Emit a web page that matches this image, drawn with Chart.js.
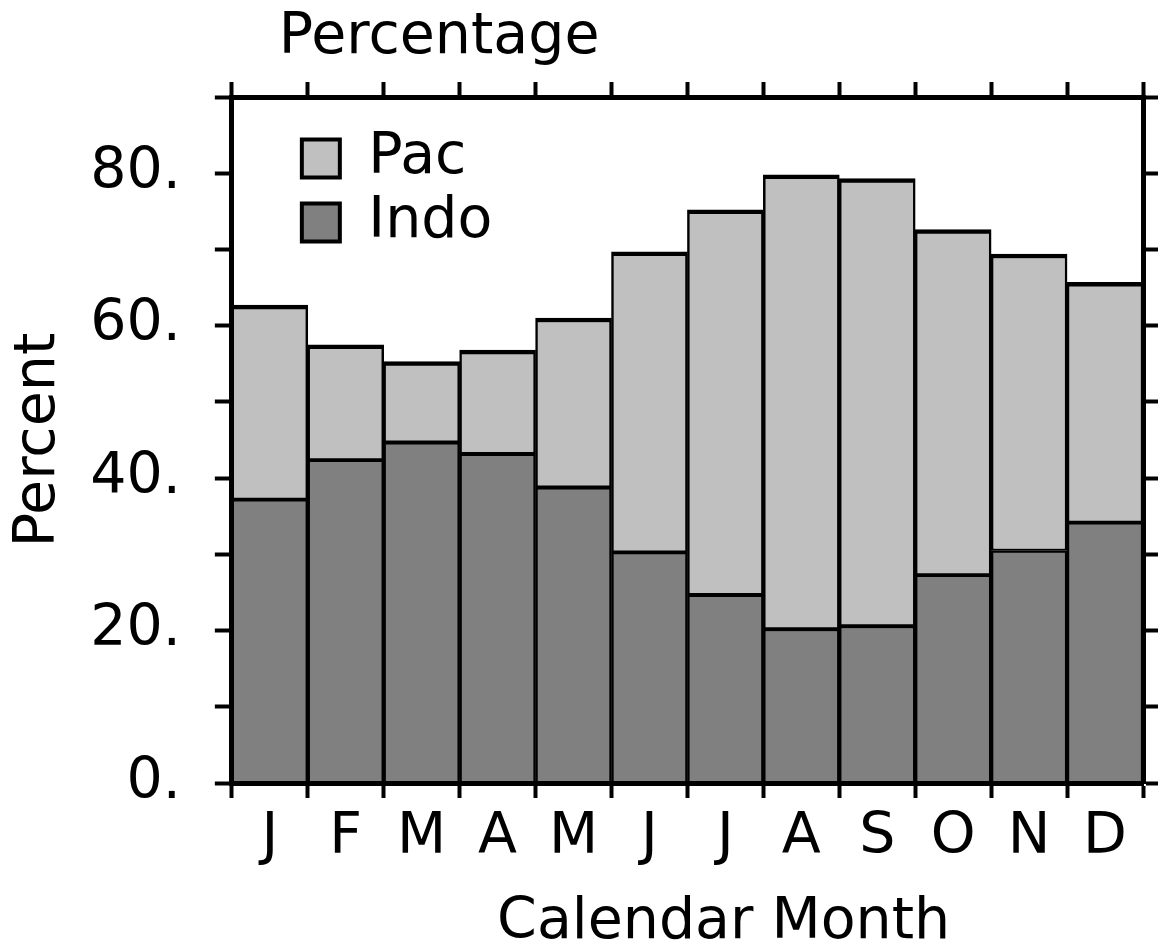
<!DOCTYPE html>
<html>
<head>
<meta charset="utf-8">
<script src="https://cdn.jsdelivr.net/npm/chart.js@4/dist/chart.umd.min.js"></script>
<style>
  body { margin: 0; background: #fff; }
  #wrap { width: 1158px; height: 947px; }
</style>
</head>
<body>
<div id="wrap"><canvas id="barChart"></canvas></div>
<script>
var months = ['J', 'F', 'M', 'A', 'M', 'J', 'J', 'A', 'S', 'O', 'N', 'D'];
var indo = [37.2, 42.4, 44.7, 43.2, 38.8, 30.3, 24.7, 20.2, 20.6, 27.3, 30.5, 34.2];
var pac = [25.5, 15.1, 10.6, 13.6, 22.2, 39.4, 50.5, 59.6, 58.7, 45.3, 38.9, 31.5];
var yLabels = {0: '0.', 20: '20.', 40: '40.', 60: '60.', 80: '80.'};

var font = 'DejaVu Sans';
var fsize = 57;

// frame axes: ticks on every side pointing outward, no labels on top/right
var frameGrid = {
    drawOnChartArea: false,
    drawTicks: true,
    tickWidth: 4,
    tickColor: '#000'
};
var frameBorder = { display: true, color: '#000', width: 5, z: 1 };

// moves title and legend to where the original has them
var placeBits = {
    id: 'placeBits',
    afterLayout: function (chart) {
        var ca = chart.chartArea;
        if (chart.titleBlock) {
            chart.titleBlock.left = ca.left + 47;
        }
        if (chart.legend) {
            chart.legend.left = ca.left + 63;
            chart.legend.top = ca.top + 26;
        }
    }
};

var ctx = document.getElementById('barChart').getContext('2d');
var myChart = new Chart(ctx, {
    type: 'bar',
    data: {
        labels: months,
        datasets: [{
            label: 'Indo',
            data: indo,
            backgroundColor: '#808080',
            borderColor: '#000',
            borderWidth: {top: 2.5, right: 2.5, bottom: 0, left: 2.5},
            borderSkipped: false,
            barPercentage: 1,
            categoryPercentage: 1
        },
        {
            label: 'Pac',
            data: pac,
            backgroundColor: '#c0c0c0',
            borderColor: '#000',
            borderWidth: {top: 4.5, right: 2.5, bottom: 2, left: 2.5},
            borderSkipped: false,
            barPercentage: 1,
            categoryPercentage: 1
        }]
    },
    options: {
        responsive: true,
        maintainAspectRatio: false,
        animation: false,
        layout: { padding: 0 },
        plugins: {
            tooltip: { enabled: false },
            title: {
                display: true,
                text: 'Percentage',
                align: 'start',
                fullSize: false,
                color: '#000',
                font: { family: font, size: fsize, weight: 'normal', lineHeight: 1 },
                padding: { top: 10, bottom: 15 }
            },
            legend: {
                position: 'chartArea',
                align: 'start',
                reverse: true,
                labels: {
                    color: '#000',
                    font: { family: font, size: fsize, lineHeight: 1 },
                    boxWidth: 38,
                    boxHeight: 38,
                    padding: 7,
                    generateLabels: function (chart) {
                        return chart.data.datasets.map(function (ds, i) {
                            return {
                                text: ds.label,
                                fillStyle: ds.backgroundColor,
                                strokeStyle: '#000',
                                lineWidth: 4,
                                fontColor: '#000',
                                hidden: false,
                                datasetIndex: i
                            };
                        });
                    }
                }
            }
        },
        scales: {
            x: {
                type: 'category',
                position: 'bottom',
                stacked: true,
                offset: true,
                grid: Object.assign({}, frameGrid, { offset: true, tickLength: 15 }),
                border: frameBorder,
                ticks: {
                    color: '#000',
                    padding: 12,
                    maxRotation: 0,
                    autoSkip: false,
                    font: { family: font, size: fsize, lineHeight: 1 }
                },
                title: {
                    display: true,
                    text: '    Calendar Month',
                    color: '#000',
                    font: { family: font, size: fsize, lineHeight: 0.8 },
                    padding: { top: 21.7, bottom: 0.7 }
                }
            },
            xTop: {
                type: 'category',
                position: 'top',
                labels: months,
                offset: true,
                display: true,
                grid: Object.assign({}, frameGrid, { offset: true, tickLength: 15 }),
                border: frameBorder,
                ticks: { display: false }
            },
            y: {
                position: 'left',
                stacked: true,
                min: 0,
                max: 90,
                grid: Object.assign({}, frameGrid, { tickLength: 17 }),
                border: frameBorder,
                ticks: {
                    stepSize: 10,
                    color: '#000',
                    padding: 34,
                    font: { family: font, size: fsize, lineHeight: 1 },
                    callback: function (value) {
                        return yLabels[value] || '';
                    }
                },
                title: {
                    display: true,
                    text: 'Percent',
                    color: '#000',
                    font: { family: font, size: fsize, lineHeight: 0.6 },
                    padding: { top: 22, bottom: 0 }
                }
            },
            yRight: {
                position: 'right',
                min: 0,
                max: 90,
                display: true,
                grid: Object.assign({}, frameGrid, { tickLength: 15 }),
                border: frameBorder,
                ticks: { stepSize: 10, display: false }
            }
        }
    },
    plugins: [placeBits]
});
</script>
</body>
</html>
